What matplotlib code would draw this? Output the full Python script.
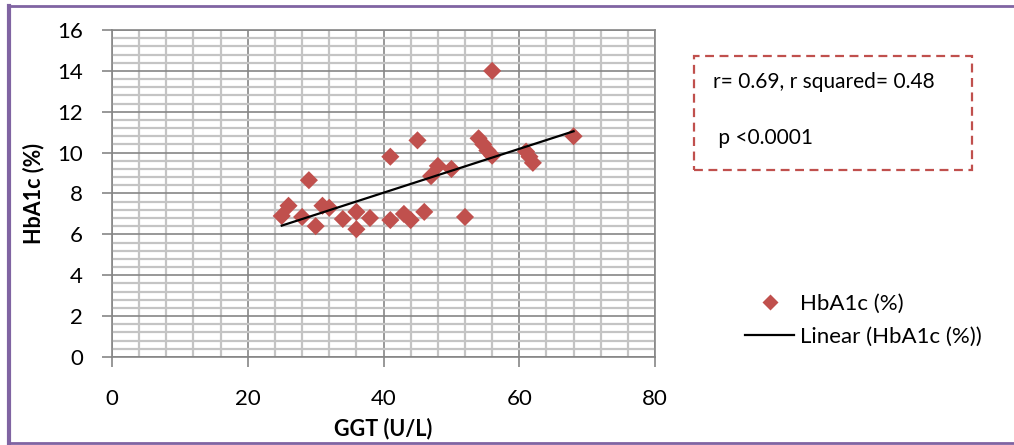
import numpy as np
import matplotlib
matplotlib.use('Agg')
import matplotlib.pyplot as plt
from matplotlib.lines import Line2D
from matplotlib.patches import Rectangle
from matplotlib.ticker import MultipleLocator

# data
ggt = [25, 26, 28, 29, 30, 31, 32, 34, 36, 36, 38, 41, 41, 43, 44,
       45, 46, 47, 48, 50, 52, 54, 54.7, 55.3, 56, 56, 61, 61.5, 62, 68]
hba1c = [6.9, 7.4, 6.85, 8.65, 6.4, 7.4, 7.3, 6.75, 7.1, 6.25, 6.8, 9.8, 6.7, 7.0, 6.7,
         10.6, 7.1, 8.85, 9.35, 9.2, 6.85, 10.7, 10.4, 10.1, 9.85, 14.0, 10.05, 9.8, 9.5, 10.8]
x_ticks = [0, 20, 40, 60, 80]
y_ticks = [0, 2, 4, 6, 8, 10, 12, 14, 16]
series_name = 'HbA1c (%)'
trend_name = 'Linear (HbA1c (%))'
stats_lines = ['r= 0.69, r squared= 0.48', ' p <0.0001']

# figure parameters
FONT = ['Lato', 'Liberation Sans', 'DejaVu Sans']
TICK_SIZE = 16
LABEL_SIZE = 15.5
TEXT_SIZE = 15
LEGEND_SIZE = 16
RED = '#C0504D'
PURPLE = '#8064A2'
MAJOR_GRID = '#868686'
MINOR_GRID = '#c4c4c4'

plt.rcParams['font.family'] = FONT

fig = plt.figure(figsize=(10.14, 4.45), dpi=100)
ax = fig.add_axes([0.1105, 0.1978, 0.5355, 0.7348])

ax.scatter(ggt, hba1c, marker='D', s=85, color=RED, edgecolors='none', zorder=3)

# linear trend line over the data range
slope, icpt = np.polyfit(ggt, hba1c, 1)
xs = np.array([min(ggt), max(ggt)])
ax.plot(xs, slope * xs + icpt, color='black', lw=1.6, zorder=4)

ax.set_xlim(x_ticks[0], x_ticks[-1])
ax.set_ylim(y_ticks[0], y_ticks[-1])
ax.set_xticks(x_ticks)
ax.set_yticks(y_ticks)
ax.xaxis.set_minor_locator(MultipleLocator(4))
ax.yaxis.set_minor_locator(MultipleLocator(0.4))
ax.grid(which='minor', color=MINOR_GRID, lw=1.6, zorder=0)
ax.grid(which='major', color=MAJOR_GRID, lw=1.2, zorder=1)
ax.set_axisbelow(True)
ax.tick_params(which='minor', length=0)
ax.tick_params(which='major', length=7, width=1.2, color=MAJOR_GRID, labelsize=TICK_SIZE)
ax.tick_params(axis='x', pad=16)
ax.tick_params(axis='y', pad=14)
for sp in ax.spines.values():
    sp.set_color(MAJOR_GRID)
    sp.set_linewidth(1.2)

ax.set_xlabel('GGT (U/L)', fontsize=LABEL_SIZE, fontweight='bold', labelpad=6)
ax.set_ylabel('HbA1c (%)', fontsize=LABEL_SIZE, fontweight='bold', labelpad=9)

# legend
handles = [Line2D([], [], ls='none', marker='D', ms=8.5, color=RED, mec='none'),
           Line2D([], [], color='black', lw=1.6)]
fig.legend(handles, [series_name, trend_name], loc='upper left',
           bbox_to_anchor=(0.724, 0.365), frameon=False, fontsize=LEGEND_SIZE,
           handlelength=2.2, handletextpad=0.27, labelspacing=0.6, borderpad=0)

# dashed stats box
fig.add_artist(Rectangle((0.6844, 0.618), 0.2742, 0.2562, transform=fig.transFigure,
                         fill=False, ec=RED, lw=1.6, ls=(0, (4, 2.5))))
fig.text(0.7032, 0.8157, stats_lines[0], fontsize=TEXT_SIZE, va='center', ha='left')
fig.text(0.7032, 0.69, stats_lines[1], fontsize=TEXT_SIZE, va='center', ha='left')

# purple frame (cut off at the right)
fig.add_artist(Line2D([0.0093, 1.0], [0.9865, 0.9865], transform=fig.transFigure, color=PURPLE, lw=2))
fig.add_artist(Line2D([0.0093, 0.0093], [0.004, 0.9865], transform=fig.transFigure, color=PURPLE, lw=3))
fig.add_artist(Line2D([0.0093, 1.0], [0.004, 0.004], transform=fig.transFigure, color=PURPLE, lw=2))

fig.savefig('out.png', dpi=100)
